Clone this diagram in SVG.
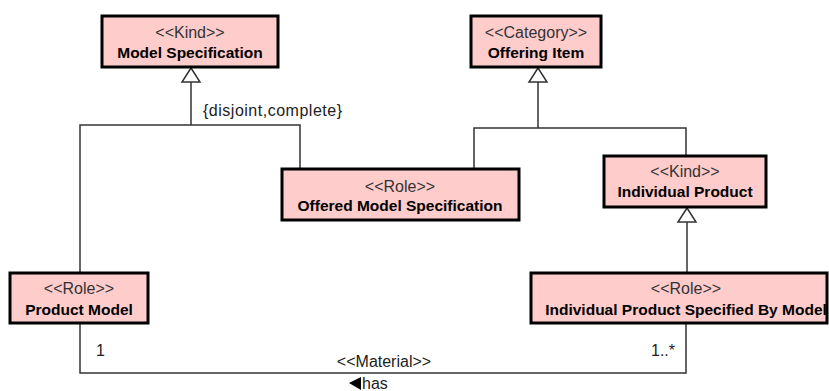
<svg xmlns="http://www.w3.org/2000/svg" width="829" height="391" viewBox="0 0 829 391">
<style>
.box{fill:#ffcccc;stroke:#000;stroke-width:3}
.st{font-family:"Liberation Sans",Arial,sans-serif;font-size:16px;fill:#333;text-anchor:middle}
.nm{font-family:"Liberation Sans",Arial,sans-serif;font-size:15.5px;font-weight:bold;fill:#000;text-anchor:middle}
.lb{font-family:"Liberation Sans",Arial,sans-serif;font-size:16px;fill:#222}
.ln{fill:none;stroke:#333;stroke-width:1.5}
.gen{fill:#fff;stroke:#333;stroke-width:1.5}
</style>
<rect width="829" height="391" fill="#fff"/>
<g id="connectors">
  <path class="ln" d="M191,82 V125 M80,272 V125 H300 V168"/>
  <polygon class="gen" points="191,68 182,82 200,82"/>
  <text class="lb" x="203" y="116" textLength="139">{disjoint,complete}</text>
  <path class="ln" d="M538,82 V128 M474,168 V128 H686 V155"/>
  <polygon class="gen" points="538,68 529,82 547,82"/>
  <path class="ln" d="M687,222 V272"/>
  <polygon class="gen" points="687,208 678,222 696,222"/>
  <path class="ln" d="M80,324 V373 H686 V324"/>
  <text class="lb" x="96" y="356">1</text>
  <text class="lb" x="675" y="356" text-anchor="end">1..*</text>
  <text class="lb" x="384" y="367" text-anchor="middle">&lt;&lt;Material&gt;&gt;</text>
  <polygon points="349,383 361,377 361,390" fill="#000"/>
  <text class="lb" x="362" y="389">has</text>
</g>
<g id="model-specification">
  <rect class="box" x="102" y="16" width="176" height="51"/>
  <text class="st" x="190" y="38">&lt;&lt;Kind&gt;&gt;</text>
  <text class="nm" x="190" y="58">Model Specification</text>
</g>
<g id="offering-item">
  <rect class="box" x="471" y="16" width="130" height="51"/>
  <text class="st" x="536" y="38">&lt;&lt;Category&gt;&gt;</text>
  <text class="nm" x="536" y="58">Offering Item</text>
</g>
<g id="offered-model-specification">
  <rect class="box" x="282" y="169" width="237" height="51"/>
  <text class="st" x="400" y="192">&lt;&lt;Role&gt;&gt;</text>
  <text class="nm" x="400" y="211">Offered Model Specification</text>
</g>
<g id="individual-product">
  <rect class="box" x="604" y="156" width="162" height="51"/>
  <text class="st" x="685" y="177">&lt;&lt;Kind&gt;&gt;</text>
  <text class="nm" x="685" y="197">Individual Product</text>
</g>
<g id="product-model">
  <rect class="box" x="10" y="273" width="138" height="50"/>
  <text class="st" x="79" y="294">&lt;&lt;Role&gt;&gt;</text>
  <text class="nm" x="79" y="315">Product Model</text>
</g>
<g id="individual-product-specified-by-model">
  <rect class="box" x="531" y="273" width="296" height="50"/>
  <text class="st" x="686" y="294">&lt;&lt;Role&gt;&gt;</text>
  <text class="nm" x="686" y="315">Individual Product Specified By Model</text>
</g>
</svg>
